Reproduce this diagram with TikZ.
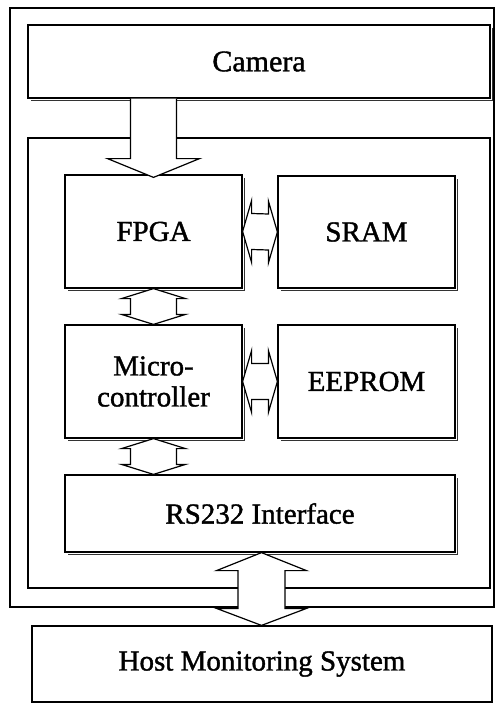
\documentclass[tikz,border=0pt]{standalone}
\usepackage{fontspec}
\setmainfont{Liberation Serif}
\newfontfamily\scanfont[FakeBold=1.3]{Liberation Serif}
\usetikzlibrary{calc}
\tikzset{
  blk/.style={draw, line width=1.2pt, fill=white, inner sep=0pt, align=center,
    font=\scanfont\fontsize{29}{31}\selectfont},
  frame/.style={draw, line width=1.2pt},
  barrow/.style={draw, line width=1.2pt, fill=white, line join=miter},
  shad/.style={draw=black!80, line width=1.6pt}
}
\newcommand\boxshadow[1]{%
  \draw[shad] ($(#1.south west)+(4,2)$) -- ($(#1.south east)+(2,2)$) -- ($(#1.north east)+(2,4)$);}
\newcommand\vdblarrow[6]{% top, bottom, shaft half, head half, head len top, head len bottom
  \pgfmathsetmacro\dd{#4-#3}%
  \draw[barrow] (#1) -- ++(#4,#5) -- ++(-\dd,0) -- ($(#2)+(#3,-#6)$) -- ++(\dd,0) -- (#2)
    -- ++(-#4,-#6) -- ++(\dd,0) -- ($(#1)+(-#3,#5)$) -- ++(-\dd,0) -- cycle;}
\newcommand\hdblarrow[5]{% left, right, shaft half, head half, head len
  \pgfmathsetmacro\dd{#4-#3}%
  \draw[barrow] (#1) -- ++(#5,-#4) -- ++(0,\dd) -- ($(#2)+(-#5,-#3)$) -- ++(0,-\dd) -- (#2)
    -- ++(-#5,#4) -- ++(0,-\dd) -- ($(#1)+(#5,#3)$) -- ++(0,\dd) -- cycle;}
\begin{document}
\begin{tikzpicture}[x=1pt,y=-1pt]
\useasboundingbox (0,0) rectangle (495,704);
% frames
\draw[frame] (10,8) rectangle (494,607);
\draw[frame] (28,138) rectangle (490,588);
% blocks
\node[blk, minimum width=462pt, minimum height=73pt, font=\scanfont\fontsize{30}{32}\selectfont] (cam) at (259,61.5) {Camera};
\node[blk, minimum width=177pt, minimum height=113pt] (fpga) at (153.5,231.5) {FPGA};
\node[blk, minimum width=177pt, minimum height=112pt] (sram) at (366.5,232) {SRAM};
\node[blk, minimum width=177pt, minimum height=113pt] (micro) at (153.5,381.5) {Micro-\\controller};
\node[blk, minimum width=177pt, minimum height=113pt] (eeprom) at (366.5,381.5) {EEPROM};
\node[blk, minimum width=390pt, minimum height=77pt] (rs) at (260,513.5) {RS232 Interface};
\node[blk, minimum width=460pt, minimum height=76pt] (host) at (262,664) {Host Monitoring System};
\boxshadow{cam}
\boxshadow{fpga}
\boxshadow{sram}
\boxshadow{micro}
\boxshadow{eeprom}
\boxshadow{rs}
% camera -> fpga
\coordinate (a1) at (cam.south -| fpga.north);
\draw[barrow] ($(a1)+(-23,0)$) -- ($(a1)+(-23,60)$) -- ($(a1)+(-46,60)$) -- ($(fpga.north)+(0,3)$)
  -- ($(a1)+(46,60)$) -- ($(a1)+(23,60)$) -- ($(a1)+(23,0)$);
% vertical double arrows
\vdblarrow{fpga.south}{micro.north}{23}{32}{10}{10}
\coordinate (m2) at (micro.south |- rs.north);
\vdblarrow{micro.south}{m2}{23}{32}{10}{10}
\coordinate (r1) at ($(rs.south)+(1.5,0)$);
\coordinate (h1) at (r1 |- host.north);
\vdblarrow{r1}{h1}{23.5}{45}{18}{17}
% horizontal double arrows
\hdblarrow{fpga.east}{sram.west}{18}{31}{9}
\hdblarrow{micro.east}{eeprom.west}{18}{31}{9}
\end{tikzpicture}
\end{document}
